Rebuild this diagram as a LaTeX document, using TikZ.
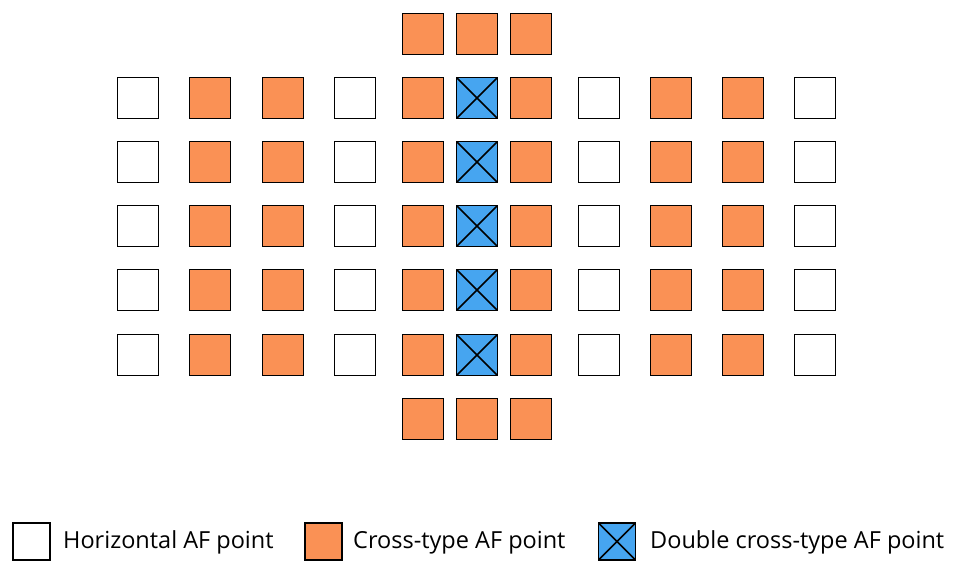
\documentclass[tikz,border=0pt]{standalone}
\usepackage{fontspec}
\setmainfont{Open Sans}
\definecolor{afOrange}{RGB}{250,145,85}
\definecolor{afBlue}{RGB}{70,165,240}
\begin{document}
\begin{tikzpicture}[x=1pt,y=1pt,
		hpt/.style={draw,line width=1.8pt,minimum size=41pt,inner sep=0pt,fill=white},
		cpt/.style={hpt,fill=afOrange},
		dpt/.style={hpt,fill=afBlue,path picture={
				\draw[line width=1.5pt] (path picture bounding box.north west) -- (path picture bounding box.south east)
				(path picture bounding box.north east) -- (path picture bounding box.south west);}},
		key/.style={anchor=base west,inner sep=0pt,font=\fontsize{23.5}{27}\selectfont}]
		\useasboundingbox (0,0) rectangle (957,561);
		
		% five full rows
		\foreach \x/\k [count=\c] in {138/hpt,210/cpt,283/cpt,355/hpt,423/cpt,477/dpt,531/cpt,599/hpt,671/cpt,743/cpt,815/hpt}
		\foreach \y [count=\r] in {463,399,335,271,206}
		\node[\k] (p\r-\c) at (\x,\y) {};
		
		% short rows above and below
		\foreach \x [count=\c] in {423,477,531} {
			\node[cpt] (t\c) at (\x,527) {};
			\node[cpt] (b\c) at (\x,142) {};
		}
		
		% legend
		\node[hpt,minimum size=37pt] (keyH) at (31.5,19.5) {};
		\node[key] (txtH) at (63,12) {Horizontal AF point};
		\node[cpt,minimum size=37pt] (keyC) at (323.5,19.5) {};
		\node[key] (txtC) at (353,12) {Cross-type AF point};
		\node[dpt,minimum size=37pt] (keyD) at (617,19.5) {};
		\node[key] (txtD) at (650,12) {Double cross-type AF point};
\end{tikzpicture}
\end{document}
